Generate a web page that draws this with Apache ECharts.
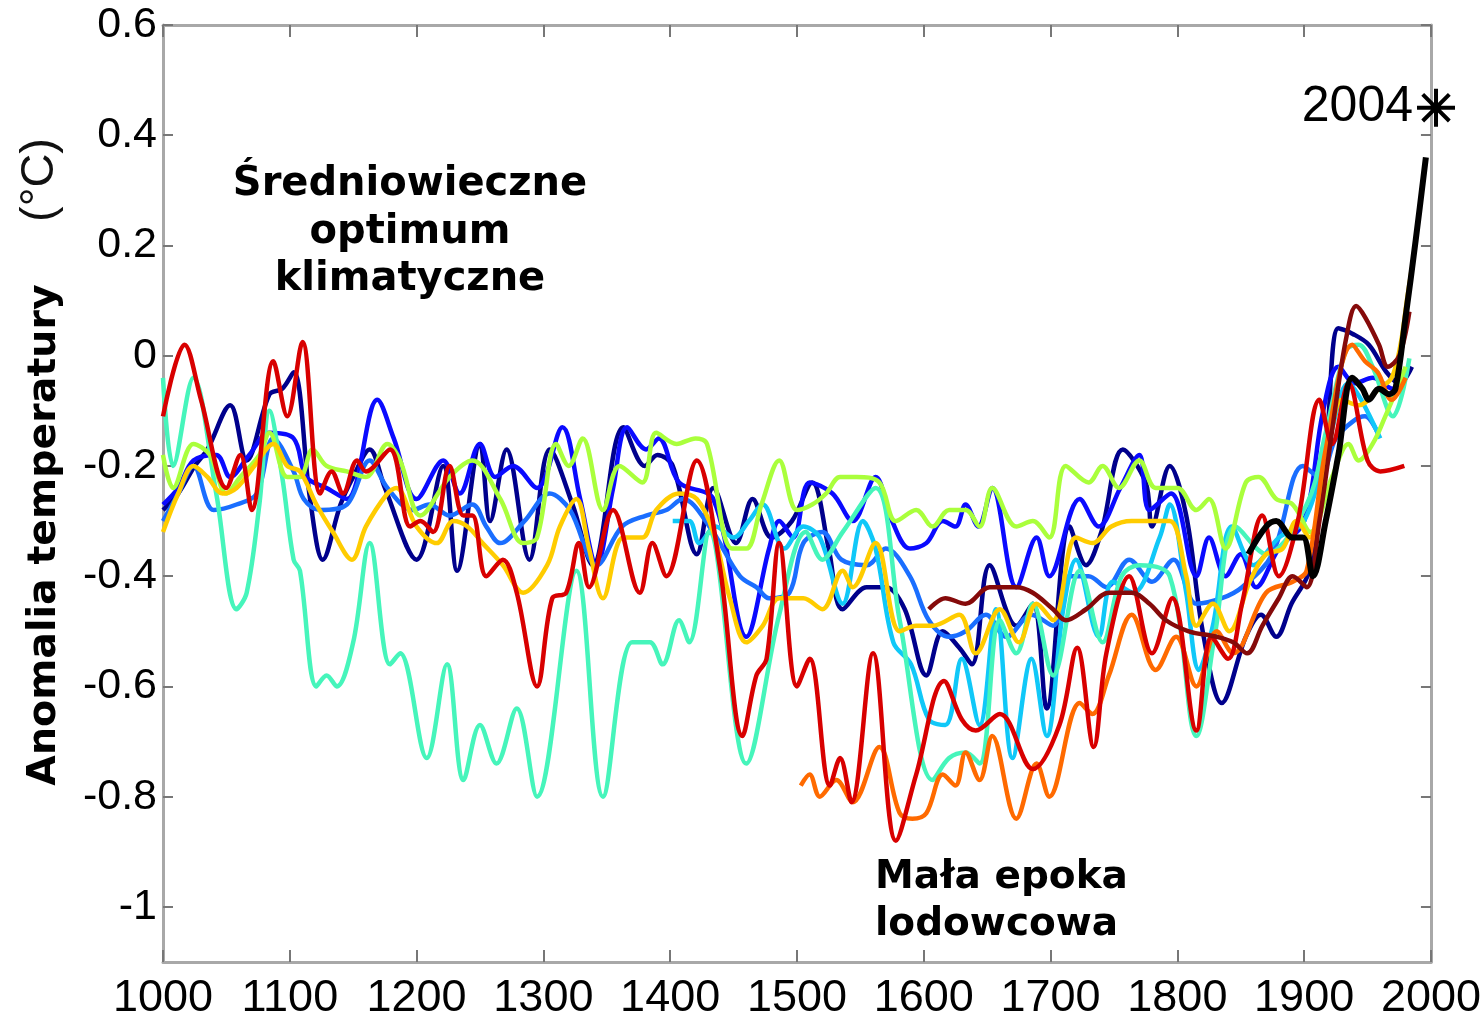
<!DOCTYPE html>
<html><head><meta charset="utf-8">
<script src="https://cdn.jsdelivr.net/npm/echarts@6/dist/echarts.min.js"></script>
<style>html,body{margin:0;padding:0;background:#fff}#c{width:1484px;height:1021px}</style>
</head><body><div id="c"></div>
<script>
// Tick labels
const xTicks = [1000,1100,1200,1300,1400,1500,1600,1700,1800,1900,2000];
const yTicks = [-1,-0.8,-0.6,-0.4,-0.2,0,0.2,0.4,0.6];

// Reconstructions: [year, anomaly °C]
const jones1998 = [[1000,-0.28],[1012,-0.25],[1025,-0.20],[1035,-0.17],[1053,-0.09],[1066,-0.19],[1084,-0.07],[1094,-0.06],[1103,-0.03],[1116,-0.26],[1126,-0.37],[1140,-0.27],[1150,-0.22],[1163,-0.17],[1175,-0.24],[1200,-0.37],[1221,-0.20],[1232,-0.39],[1250,-0.16],[1258,-0.30],[1271,-0.17],[1289,-0.37],[1305,-0.17],[1323,-0.27],[1339,-0.38],[1363,-0.13],[1380,-0.20],[1390,-0.18],[1402,-0.20],[1421,-0.36],[1434,-0.24],[1452,-0.34],[1465,-0.26],[1480,-0.33],[1496,-0.30],[1512,-0.23],[1525,-0.35],[1536,-0.46],[1555,-0.42],[1570,-0.42],[1585,-0.46],[1602,-0.58],[1615,-0.50],[1628,-0.53],[1638,-0.56],[1652,-0.38],[1673,-0.49],[1686,-0.45],[1697,-0.64],[1715,-0.31],[1728,-0.38],[1740,-0.32],[1757,-0.17],[1775,-0.23],[1780,-0.31],[1794,-0.20],[1807,-0.29],[1820,-0.50],[1835,-0.63],[1854,-0.51],[1866,-0.47],[1878,-0.51],[1890,-0.45],[1904,-0.39],[1917,-0.18],[1927,0.05],[1938,0.04],[1951,0.02],[1965,-0.03],[1975,-0.05],[1985,-0.02]];
const mann1999 = [[1000,-0.27],[1012,-0.24],[1024,-0.19],[1042,-0.18],[1053,-0.22],[1068,-0.18],[1084,-0.14],[1103,-0.15],[1113,-0.22],[1129,-0.24],[1145,-0.26],[1169,-0.08],[1182,-0.15],[1200,-0.26],[1221,-0.19],[1234,-0.25],[1250,-0.16],[1262,-0.22],[1276,-0.20],[1295,-0.24],[1315,-0.13],[1329,-0.26],[1342,-0.38],[1355,-0.24],[1366,-0.13],[1381,-0.17],[1391,-0.15],[1407,-0.23],[1434,-0.26],[1460,-0.51],[1478,-0.35],[1486,-0.30],[1497,-0.33],[1510,-0.23],[1528,-0.25],[1544,-0.30],[1562,-0.22],[1575,-0.30],[1589,-0.35],[1602,-0.34],[1615,-0.30],[1625,-0.31],[1633,-0.27],[1643,-0.31],[1654,-0.24],[1673,-0.42],[1689,-0.33],[1699,-0.40],[1723,-0.26],[1738,-0.31],[1755,-0.24],[1770,-0.18],[1778,-0.28],[1795,-0.25],[1815,-0.40],[1825,-0.33],[1838,-0.40],[1850,-0.36],[1862,-0.42],[1880,-0.35],[1900,-0.30],[1915,-0.10],[1927,-0.02],[1940,-0.05],[1954,-0.04],[1970,-0.06],[1980,-0.04]];
const crowley2000 = [[1000,-0.30],[1012,-0.25],[1024,-0.20],[1040,-0.28],[1058,-0.27],[1074,-0.25],[1087,-0.15],[1103,-0.21],[1111,-0.26],[1124,-0.28],[1145,-0.27],[1163,-0.19],[1177,-0.24],[1197,-0.28],[1210,-0.27],[1226,-0.29],[1244,-0.27],[1255,-0.31],[1266,-0.34],[1285,-0.30],[1305,-0.25],[1321,-0.28],[1342,-0.38],[1362,-0.31],[1381,-0.29],[1397,-0.28],[1410,-0.26],[1431,-0.31],[1455,-0.40],[1468,-0.42],[1478,-0.44],[1494,-0.43],[1505,-0.34],[1520,-0.32],[1535,-0.37],[1555,-0.38],[1570,-0.35],[1589,-0.40],[1604,-0.48],[1620,-0.51],[1633,-0.50],[1649,-0.47],[1665,-0.51],[1685,-0.47],[1702,-0.49],[1715,-0.40],[1730,-0.40],[1744,-0.42],[1762,-0.37],[1780,-0.41],[1797,-0.37],[1815,-0.45],[1835,-0.44],[1851,-0.42],[1875,-0.36],[1899,-0.20],[1912,-0.22],[1925,-0.15],[1938,-0.12],[1948,-0.11],[1958,-0.14]];
const briffa2001 = [[1402,-0.30],[1415,-0.30],[1423,-0.34],[1436,-0.31],[1450,-0.33],[1462,-0.30],[1473,-0.27],[1490,-0.35],[1505,-0.31],[1518,-0.33],[1536,-0.45],[1552,-0.30],[1562,-0.35],[1576,-0.52],[1590,-0.56],[1604,-0.66],[1617,-0.67],[1630,-0.55],[1644,-0.67],[1657,-0.46],[1670,-0.73],[1685,-0.55],[1697,-0.69],[1710,-0.46],[1720,-0.37],[1738,-0.51],[1749,-0.41],[1765,-0.43],[1786,-0.33],[1794,-0.27],[1807,-0.43],[1817,-0.57],[1828,-0.49],[1843,-0.31],[1860,-0.38],[1880,-0.33],[1900,-0.30],[1920,-0.15],[1935,-0.05],[1945,-0.08],[1960,-0.15]];
const esper2002 = [[1000,-0.04],[1008,-0.20],[1024,-0.04],[1042,-0.25],[1058,-0.46],[1066,-0.43],[1076,-0.27],[1084,-0.10],[1094,-0.22],[1103,-0.37],[1108,-0.39],[1121,-0.60],[1129,-0.58],[1137,-0.60],[1150,-0.52],[1163,-0.34],[1179,-0.56],[1187,-0.54],[1208,-0.73],[1224,-0.56],[1237,-0.77],[1250,-0.67],[1263,-0.74],[1279,-0.64],[1295,-0.80],[1326,-0.39],[1347,-0.80],[1370,-0.52],[1384,-0.52],[1394,-0.56],[1407,-0.48],[1415,-0.52],[1431,-0.32],[1460,-0.74],[1486,-0.47],[1507,-0.32],[1520,-0.37],[1536,-0.32],[1562,-0.24],[1581,-0.48],[1607,-0.77],[1620,-0.73],[1633,-0.72],[1644,-0.74],[1660,-0.48],[1673,-0.54],[1686,-0.45],[1702,-0.58],[1723,-0.39],[1741,-0.52],[1756,-0.40],[1770,-0.38],[1794,-0.40],[1815,-0.69],[1830,-0.50],[1846,-0.31],[1870,-0.36],[1902,-0.27],[1917,-0.14],[1933,0.01],[1943,0.02],[1954,-0.02],[1970,-0.11],[1983,-0.005]];
const mannJones2003 = [[1000,-0.18],[1008,-0.24],[1024,-0.16],[1037,-0.18],[1050,-0.25],[1061,-0.22],[1076,-0.18],[1084,-0.14],[1098,-0.22],[1108,-0.22],[1118,-0.17],[1129,-0.20],[1145,-0.21],[1160,-0.22],[1177,-0.16],[1187,-0.19],[1203,-0.29],[1226,-0.22],[1244,-0.19],[1266,-0.26],[1284,-0.34],[1295,-0.33],[1310,-0.16],[1320,-0.20],[1331,-0.15],[1347,-0.28],[1360,-0.20],[1378,-0.23],[1389,-0.14],[1405,-0.16],[1420,-0.15],[1429,-0.16],[1449,-0.35],[1460,-0.35],[1472,-0.27],[1486,-0.19],[1500,-0.28],[1512,-0.27],[1523,-0.25],[1534,-0.22],[1547,-0.22],[1565,-0.23],[1578,-0.30],[1594,-0.28],[1607,-0.31],[1620,-0.28],[1633,-0.28],[1644,-0.31],[1654,-0.24],[1673,-0.31],[1686,-0.30],[1699,-0.33],[1712,-0.20],[1730,-0.23],[1741,-0.20],[1754,-0.24],[1770,-0.19],[1783,-0.24],[1800,-0.24],[1815,-0.28],[1825,-0.26],[1838,-0.35],[1854,-0.23],[1864,-0.22],[1878,-0.26],[1891,-0.27],[1905,-0.32],[1922,-0.22],[1935,-0.16],[1943,-0.19],[1954,-0.16],[1964,-0.11],[1975,-0.05],[1980,-0.02]];
const jonesMann2004 = [[1000,-0.32],[1012,-0.25],[1024,-0.20],[1035,-0.22],[1047,-0.25],[1058,-0.24],[1072,-0.20],[1087,-0.16],[1098,-0.20],[1108,-0.21],[1121,-0.27],[1134,-0.32],[1149,-0.37],[1160,-0.31],[1177,-0.25],[1184,-0.24],[1200,-0.31],[1216,-0.34],[1229,-0.30],[1240,-0.31],[1252,-0.34],[1268,-0.38],[1284,-0.43],[1303,-0.38],[1313,-0.31],[1326,-0.26],[1336,-0.35],[1347,-0.44],[1363,-0.33],[1378,-0.33],[1389,-0.28],[1407,-0.25],[1421,-0.26],[1434,-0.32],[1447,-0.44],[1460,-0.52],[1473,-0.49],[1486,-0.44],[1505,-0.44],[1520,-0.46],[1536,-0.39],[1544,-0.42],[1562,-0.34],[1581,-0.50],[1594,-0.49],[1607,-0.49],[1628,-0.47],[1641,-0.54],[1660,-0.46],[1675,-0.52],[1689,-0.45],[1702,-0.48],[1720,-0.33],[1733,-0.34],[1748,-0.31],[1764,-0.30],[1778,-0.30],[1794,-0.30],[1807,-0.40],[1815,-0.49],[1828,-0.45],[1841,-0.50],[1857,-0.41],[1870,-0.36],[1883,-0.35],[1894,-0.30],[1904,-0.33],[1917,-0.20],[1930,-0.08],[1943,-0.09],[1959,-0.06],[1969,-0.04],[1976,0.02],[1981,0.10],[1985,0.16]];
const huang2004 = [[1503,-0.78],[1510,-0.76],[1518,-0.80],[1531,-0.77],[1544,-0.81],[1565,-0.71],[1581,-0.83],[1591,-0.84],[1602,-0.83],[1615,-0.76],[1625,-0.78],[1633,-0.72],[1644,-0.77],[1654,-0.69],[1673,-0.84],[1689,-0.74],[1699,-0.80],[1723,-0.63],[1733,-0.65],[1746,-0.58],[1764,-0.47],[1783,-0.57],[1799,-0.51],[1815,-0.60],[1831,-0.50],[1844,-0.54],[1870,-0.43],[1891,-0.41],[1902,-0.39],[1917,-0.17],[1938,0.02],[1948,-0.01],[1958,-0.03],[1969,-0.08],[1980,-0.04]];
const moberg2005 = [[1000,-0.11],[1017,0.02],[1030,-0.08],[1050,-0.24],[1061,-0.18],[1070,-0.28],[1087,-0.01],[1098,-0.11],[1110,0.025],[1124,-0.25],[1133,-0.21],[1142,-0.25],[1153,-0.19],[1160,-0.21],[1179,-0.17],[1195,-0.31],[1203,-0.30],[1213,-0.32],[1226,-0.20],[1237,-0.29],[1244,-0.29],[1255,-0.40],[1268,-0.37],[1279,-0.43],[1295,-0.60],[1307,-0.44],[1318,-0.43],[1328,-0.34],[1336,-0.42],[1355,-0.28],[1376,-0.43],[1386,-0.34],[1397,-0.40],[1421,-0.19],[1439,-0.38],[1457,-0.69],[1468,-0.58],[1476,-0.55],[1486,-0.34],[1500,-0.60],[1510,-0.55],[1526,-0.78],[1534,-0.73],[1543,-0.81],[1560,-0.54],[1578,-0.88],[1594,-0.76],[1616,-0.59],[1630,-0.66],[1641,-0.68],[1660,-0.65],[1686,-0.75],[1707,-0.67],[1721,-0.53],[1734,-0.71],[1744,-0.54],[1762,-0.40],[1780,-0.54],[1796,-0.44],[1815,-0.68],[1827,-0.51],[1840,-0.55],[1851,-0.45],[1867,-0.29],[1880,-0.40],[1895,-0.30],[1912,-0.08],[1922,-0.16],[1935,-0.05],[1950,-0.19],[1960,-0.21],[1979,-0.20]];
const oerlemans2005 = [[1604,-0.46],[1617,-0.44],[1633,-0.45],[1652,-0.42],[1673,-0.42],[1686,-0.43],[1702,-0.46],[1712,-0.48],[1728,-0.46],[1746,-0.43],[1764,-0.43],[1778,-0.45],[1791,-0.48],[1809,-0.50],[1831,-0.51],[1844,-0.52],[1855,-0.54],[1867,-0.49],[1880,-0.44],[1891,-0.40],[1902,-0.42],[1912,-0.30],[1923,-0.12],[1933,0.03],[1941,0.09],[1948,0.07],[1959,0.02],[1966,-0.02],[1975,0.0],[1983,0.08]];
const instrumental = [[1856,-0.36],[1870,-0.31],[1878,-0.30],[1891,-0.33],[1899,-0.33],[1907,-0.40],[1917,-0.30],[1927,-0.18],[1938,-0.04],[1946,-0.06],[1951,-0.08],[1959,-0.06],[1967,-0.07],[1972,-0.06],[1980,0.07],[1988,0.21],[1996,0.36]];
const marker2004 = [[2004,0.45]];

const seriesDefs = [
  ['Jones 1998', jones1998, '#00008c', 4.5],
  ['Mann 1999', mann1999, '#0a0aff', 4.5],
  ['Crowley 2000', crowley2000, '#1a6eff', 4.5],
  ['Briffa 2001', briffa2001, '#10c8f8', 4.5],
  ['Esper 2002', esper2002, '#46f5bb', 4.5],
  ['Mann & Jones 2003', mannJones2003, '#aaff3c', 4.5],
  ['Jones & Mann 2004', jonesMann2004, '#ffcc00', 4.5],
  ['Huang 2004', huang2004, '#ff6a00', 4.5],
  ['Moberg 2005', moberg2005, '#d80000', 4.5],
  ['Oerlemans 2005', oerlemans2005, '#850a0a', 4.5],
  ['Instrumental', instrumental, '#000000', 6]
];

const axisGray = '#a8a8a8';
const tickGray = '#777777';
const fmtY = v => (Math.abs(v) < 1e-9 ? '0' : String(Math.round(v * 10) / 10));

const series = seriesDefs.map(([name, data, color, w]) => ({
  name, type: 'line', data, smooth: 0.35, showSymbol: false, symbol: 'none',
  lineStyle: { color, width: w }, itemStyle: { color }, z: 2
}));
series.push({
  name: '2004', type: 'scatter', data: marker2004, clip: false, z: 5,
  symbol: 'path://M0,-10L0,10M-10,0L10,0M-7,-7L7,7M-7,7L7,-7',
  symbolSize: 38,
  itemStyle: { color: 'transparent', borderColor: '#000', borderWidth: 4, opacity: 1 },
  label: { show: true, position: 'left', distance: 2, formatter: '2004', opacity: 1,
    fontSize: 50, fontFamily: '"Liberation Sans", Arial, sans-serif', color: '#000' }
});

const chart = echarts.init(document.getElementById('c'));
chart.setOption({
  animation: false,
  backgroundColor: '#fff',
  grid: { left: 163, right: 51, top: 25, bottom: 56, containLabel: false },
  xAxis: [{
    type: 'value', min: 1000, max: 2000, interval: 100,
    axisLine: { show: true, onZero: false, lineStyle: { color: axisGray, width: 3 } },
    axisTick: { show: true, inside: true, length: 12, lineStyle: { color: tickGray, width: 2 } },
    axisLabel: { show: true, margin: 14, fontSize: 45, color: '#000',
      fontFamily: '"Liberation Sans Narrow", "Liberation Sans", Arial, sans-serif',
      customValues: xTicks, formatter: v => String(v) },
    splitLine: { show: false }
  }, {
    type: 'value', position: 'top', min: 1000, max: 2000, interval: 100,
    axisLine: { show: true, onZero: false, lineStyle: { color: axisGray, width: 3 } },
    axisTick: { show: true, inside: true, length: 12, lineStyle: { color: tickGray, width: 2 } },
    axisLabel: { show: false }, splitLine: { show: false }
  }],
  yAxis: [{
    type: 'value', min: -1.1, max: 0.6,
    axisLine: { show: true, onZero: false, lineStyle: { color: axisGray, width: 3 } },
    axisTick: { show: true, inside: true, length: 10, customValues: yTicks, lineStyle: { color: tickGray, width: 2 } },
    axisLabel: { show: true, margin: 6, fontSize: 43, color: '#000',
      fontFamily: '"Liberation Sans", Arial, sans-serif', customValues: yTicks, formatter: fmtY },
    splitLine: { show: false }
  }, {
    type: 'value', position: 'right', min: -1.1, max: 0.6,
    axisLine: { show: true, onZero: false, lineStyle: { color: axisGray, width: 3 } },
    axisTick: { show: true, inside: true, length: 10, customValues: yTicks, lineStyle: { color: tickGray, width: 2 } },
    axisLabel: { show: false }, splitLine: { show: false }
  }],
  graphic: [
    { type: 'text', x: 45, y: 535, rotation: Math.PI / 2,
      style: { text: 'Anomalia temperatury', fontSize: 39.5, fontWeight: 'bold', fontFamily: '"DejaVu Sans", Verdana, sans-serif', fill: '#000', align: 'center', verticalAlign: 'middle' } },
    { type: 'text', x: 40, y: 180, rotation: Math.PI / 2,
      style: { text: '(°C)', fontSize: 47, fontFamily: '"Liberation Sans", Arial, sans-serif', fill: '#111', align: 'center', verticalAlign: 'middle' } },
    { type: 'text', x: 410, y: 185, style: { text: 'Średniowieczne', fontSize: 40, fontWeight: 'bold', fontFamily: '"DejaVu Sans", Verdana, sans-serif', fill: '#000', align: 'center', verticalAlign: 'middle' } },
    { type: 'text', x: 410, y: 233, style: { text: 'optimum', fontSize: 40, fontWeight: 'bold', fontFamily: '"DejaVu Sans", Verdana, sans-serif', fill: '#000', align: 'center', verticalAlign: 'middle' } },
    { type: 'text', x: 410, y: 280, style: { text: 'klimatyczne', fontSize: 40, fontWeight: 'bold', fontFamily: '"DejaVu Sans", Verdana, sans-serif', fill: '#000', align: 'center', verticalAlign: 'middle' } },
    { type: 'text', x: 875, y: 878, style: { text: 'Mała epoka', fontSize: 39, fontWeight: 'bold', fontFamily: '"DejaVu Sans", Verdana, sans-serif', fill: '#000', align: 'left', verticalAlign: 'middle' } },
    { type: 'text', x: 875, y: 925, style: { text: 'lodowcowa', fontSize: 39, fontWeight: 'bold', fontFamily: '"DejaVu Sans", Verdana, sans-serif', fill: '#000', align: 'left', verticalAlign: 'middle' } }
  ],
  series
});
</script></body></html>
